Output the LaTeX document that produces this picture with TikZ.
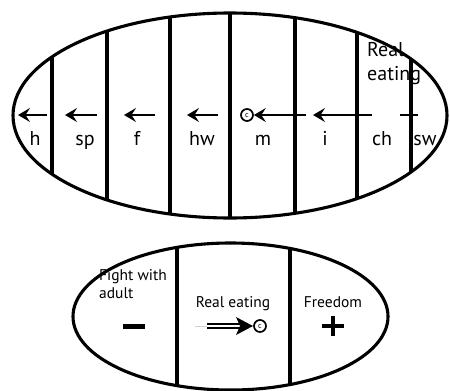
\documentclass[tikz,border=0pt]{standalone}
\usepackage{fontspec}
\setmainfont{PT Sans}
\usetikzlibrary{arrows.meta}
\tikzset{
  rim/.style={line width=3.1pt},
  wall/.style={line width=4.2pt},
  back/.style={line width=1.6pt,-{Stealth[length=12pt,width=14pt,inset=4.5pt]}},
  lbl/.style={font=\fontsize{20}{24}\selectfont,inner sep=0pt},
  sml/.style={font=\fontsize{15.5}{18}\selectfont,inner sep=0pt,align=left},
  cee/.style={circle,draw,line width=1.7pt,inner sep=0pt,minimum size=12pt,font=\fontsize{8}{8}\selectfont}
}

\begin{document}
\begin{tikzpicture}[x=1pt,y=-1pt]
			\useasboundingbox (0,0) rectangle (450,391);
			\coordinate (top) at (230,115.5);
			\coordinate (bot) at (230.5,316.5);
			
			\begin{scope}
			\clip (top) ellipse [x radius=217, y radius=102.5];
			\foreach \x in {52,107,170,230,295,357}
			\draw[wall] (\x,0) -- (\x,230);
			\draw[line width=3.4pt] (411,0) -- (411,230);
			\end{scope}
			\draw[rim] (top) ellipse [x radius=217, y radius=102.5];
			
			\foreach \a/\b/\n in {47/18/h,97/65/sp,155/124/f,218/187/hw,372/313/i}{
			\coordinate (s\n) at (\a,115);
			\coordinate (e\n) at (\b,115);
			\draw[back] (s\n) -- (e\n);
			}
			\node[cee] (ctop) at (247,115) {c};
			\coordinate (sm) at (306,115);
			\draw[back] (sm) -- (ctop);
			\coordinate (sw1) at (400,115);
			\coordinate (sw2) at (418,115);
			\draw[line width=1.6pt] (sw1) -- (sw2);
			
			\foreach \x/\t in {35/h,85/sp,137/f,202/hw,263/m,325/i,382/ch,425/sw}
			\node[lbl,anchor=base] (l\t) at (\x,145) {\t};
			\node[lbl,anchor=base west,align=left] (real) at (367,80) {Real\\eating};
			
			\begin{scope}
			\clip (bot) ellipse [x radius=157.5, y radius=73.5];
			\foreach \x in {177,290}
			\draw[wall] (\x,230) -- (\x,400);
			\end{scope}
			\draw[rim] (bot) ellipse [x radius=157.5, y radius=73.5];
			
			\node[sml,anchor=base west] (fight) at (99,298) {Fight with\\adult};
			\node[sml,anchor=base] (eat) at (233,307) {Real eating};
			\node[sml,anchor=base] (free) at (333,307) {Freedom};
			
			\fill (123,324) rectangle (145,328.5);
			\draw[line width=4pt] (322,326) -- (344,326);
			\draw[line width=4pt] (333,316) -- (333,336);
			
			\coordinate (ghost) at (195,326);
			\coordinate (ds) at (207,326);
			\coordinate (de) at (241,326);
			\node[cee] (cbot) at (260,326) {c};
			\draw[gray!35,line width=0.8pt] (ghost) -- (ds);
			\draw[double,double distance=2pt,line width=2pt] (ds) -- (de);
			\fill (236,317) -- (253,326) -- (236,335) -- (240,326) -- cycle;
\end{tikzpicture}
\end{document}
